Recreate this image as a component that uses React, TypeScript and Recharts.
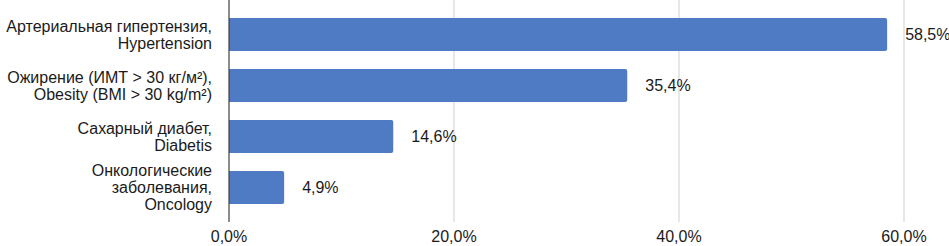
import { BarChart, Bar, XAxis, YAxis, CartesianGrid, LabelList } from 'recharts';

const categories: string[][] = [
  ['Артериальная гипертензия,', 'Hypertension'],
  ['Ожирение (ИМТ > 30 кг/м²),', 'Obesity (BMI > 30 kg/m²)'],
  ['Сахарный диабет,', 'Diabetis'],
  ['Онкологические', 'заболевания,', 'Oncology'],
];
const values: number[] = [58.5, 35.4, 14.6, 4.9];
const xTicks: number[] = [0, 20, 40, 60];

const data = categories.map((lines, i) => ({ name: lines.join('\n'), value: values[i] }));

const FONT = '"Liberation Sans", Arial, sans-serif';
const fmt = (v: number) => `${v.toFixed(1).replace('.', ',')}%`;

function CategoryTick({ x, y, payload }: any) {
  const lines: string[] = String(payload.value).split('\n');
  const lh = 17;
  const start = -((lines.length - 1) * lh) / 2;
  return (
    <text x={x - 9} y={y} textAnchor="end" fill="#1a1a1a" fontSize={16} fontFamily={FONT}>
      {lines.map((l, i) => (
        <tspan key={i} x={x - 9} y={y + start + i * lh} dy="0.36em">
          {l}
        </tspan>
      ))}
    </text>
  );
}

export default function App() {
  return (
    <div style={{ position: 'absolute', left: 0, top: 0, background: '#fff' }}>
      <BarChart
        width={949}
        height={246}
        data={data}
        layout="vertical"
        margin={{ top: 0, right: 45, bottom: 0, left: 0 }}
        barCategoryGap={18}
      >
        <CartesianGrid horizontal={false} stroke="#cfcfcf" />
        <XAxis
          type="number"
          domain={[0, 60]}
          ticks={xTicks}
          tickFormatter={fmt}
          axisLine={false}
          tickLine={false}
          height={24}
          tickMargin={3}
          tick={{ fill: '#1a1a1a', fontSize: 16, fontFamily: FONT }}
        />
        <YAxis
          type="category"
          dataKey="name"
          width={229}
          padding={{ top: 9, bottom: 9 }}
          axisLine={{ stroke: '#333' }}
          tickLine={false}
          tick={<CategoryTick />}
          interval={0}
        />
        <Bar dataKey="value" fill="#4f7bc5" barSize={33} radius={[0, 2, 2, 0]} isAnimationActive={false}>
          <LabelList
            dataKey="value"
            position="right"
            offset={18}
            formatter={(v: any) => fmt(Number(v))}
            fill="#1a1a1a"
            fontSize={16}
            fontFamily={FONT}
          />
        </Bar>
      </BarChart>
    </div>
  );
}
